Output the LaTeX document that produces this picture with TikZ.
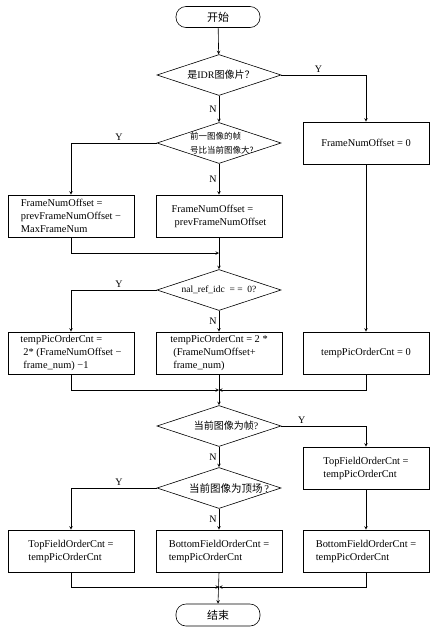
\documentclass[tikz,border=0pt]{standalone}
\usepackage{fontspec}
\setmainfont{Liberation Serif}
\newfontfamily\cjk{Noto Sans CJK SC}
\usetikzlibrary{shapes.geometric, positioning, arrows}
\tikzstyle{normalBox} = [shape=rectangle, draw=black, text=black, line width=0.6pt,
	align=center, fill=white, font=\fontsize{10.4}{13}\selectfont]
\tikzstyle{normalArrow} = [line width=0.6pt,->,>=stealth, draw=black]
\tikzstyle{ProcBox} = [normalBox, minimum width=126pt, minimum height=42pt, inner sep=2pt]
\tikzstyle{TermBox} = [normalBox, rounded corners=10pt, minimum width=84pt, minimum height=21pt,
	font=\cjk\fontsize{11}{13}\selectfont]
\tikzstyle{DecBox} = [shape=diamond, draw=black, line width=0.6pt, minimum width=124pt,
	minimum height=41pt, inner sep=0pt]
\tikzstyle{DecText} = [text=black, align=left, inner sep=0pt, font=\fontsize{10}{13}\selectfont]
\tikzstyle{YNLabel} = [text=black, font=\fontsize{10}{12}\selectfont, inner sep=2pt]

\begin{document}
\begin{tikzpicture}[x=1pt, y=-1pt]
	\useasboundingbox (0,0) rectangle (435,630);
	\node (Start) at (218,17) [TermBox] {开始};

	\node (IsIDR) at (219,75) [DecBox] {};
	\node (IsIDRText) at (IsIDR) [DecText, xshift=2pt] {{\cjk 是}IDR{\cjk 图像片？}};
	\node (Offset0) at (366,143) [ProcBox] {FrameNumOffset = 0};

	\node (PrevBig) at (219,143) [DecBox] {};
	\node (PrevBigText) at (PrevBig) [DecText, xshift=3pt, font=\cjk\fontsize{8.5}{14}\selectfont] {前一图像的帧\\号比当前图像大?};
	\node (OffsetA) at (71,216) [ProcBox, align=left] {FrameNumOffset =\\prevFrameNumOffset −\\MaxFrameNum};
	\node (OffsetB) at (219,216) [ProcBox, align=left] {FrameNumOffset =\\\hspace*{3pt}prevFrameNumOffset};
	\coordinate (Join1) at (219,253);

	\node (RefIdc) at (219,290) [DecBox] {};
	\node (RefIdcText) at (RefIdc) [DecText, font=\fontsize{9.5}{13}\selectfont] {nal\_ref\_idc\ \ = =\ \ 0?};
	\node (TempA) at (71,353) [ProcBox, align=left] {tempPicOrderCnt =\\\hspace*{3pt}2* (FrameNumOffset −\\\hspace*{3pt}frame\_num) −1};
	\node (TempB) at (219,353) [ProcBox, align=left] {tempPicOrderCnt = 2 *\\\hspace*{3pt}(FrameNumOffset+\\\hspace*{3pt}frame\_num)};
	\node (Temp0) at (366,353) [ProcBox] {tempPicOrderCnt = 0};
	\coordinate (Join2) at (219,390);

	\node (IsFrame) at (219,426) [DecBox] {};
	\node (IsFrameText) at (IsFrame) [DecText, xshift=7pt] {{\cjk 当前图像为帧}?};
	\node (TopA) at (366,468) [ProcBox, align=left] {TopFieldOrderCnt =\\tempPicOrderCnt};

	\node (IsTop) at (219,488) [DecBox] {};
	\node (IsTopText) at (IsTop) [DecText, xshift=10pt, font=\fontsize{10.5}{13}\selectfont] {{\cjk 当前图像为顶场}\,?};
	\node (TopB) at (71,551) [ProcBox, align=left] {TopFieldOrderCnt =\\tempPicOrderCnt};
	\node (BotB) at (219,551) [ProcBox, align=left] {BottomFieldOrderCnt =\\tempPicOrderCnt};
	\node (BotA) at (366,551) [ProcBox, align=left] {BottomFieldOrderCnt =\\tempPicOrderCnt};
	\coordinate (Join3) at (219,587);

	\node (Stop) at (218,615) [TermBox, minimum height=22pt] {结束};

	\draw [normalArrow] (Start) -- (IsIDR);
	\draw [normalArrow] (IsIDR.east) -| node[YNLabel, pos=0.22, above] {Y} (Offset0.north);
	\draw [normalArrow] (IsIDR.south) -- node[YNLabel, left] {N} (PrevBig.north);
	\draw [normalArrow] (PrevBig.west) -| node[YNLabel, pos=0.22, above] {Y} (OffsetA.north);
	\draw [normalArrow] (PrevBig.south) -- node[YNLabel, left] {N} (OffsetB.north);
	\draw [normalArrow] (OffsetA.south) |- (Join1);
	\draw [normalArrow] (OffsetB.south) -- (RefIdc.north);
	\draw [normalArrow] (Offset0.south) -- (Temp0.north);

	\draw [normalArrow] (RefIdc.west) -| node[YNLabel, pos=0.22, above] {Y} (TempA.north);
	\draw [normalArrow] (RefIdc.south) -- node[YNLabel, left] {N} (TempB.north);
	\draw [normalArrow] (TempA.south) |- (Join2);
	\draw [normalArrow] (Temp0.south) |- (Join2);
	\draw [normalArrow] (TempB.south) -- (IsFrame.north);

	\draw [normalArrow] (IsFrame.east) -| node[YNLabel, pos=0.12, above] {Y} (TopA.north);
	\draw [normalArrow] (IsFrame.south) -- node[YNLabel, left] {N} (IsTop.north);
	\draw [normalArrow] (TopA.south) -- (BotA.north);
	\draw [normalArrow] (IsTop.west) -| node[YNLabel, pos=0.22, above] {Y} (TopB.north);
	\draw [normalArrow] (IsTop.south) -- node[YNLabel, left] {N} (BotB.north);
	\draw [normalArrow] (TopB.south) |- (Join3);
	\draw [normalArrow] (BotA.south) |- (Join3);
	\draw [normalArrow] (BotB.south) -- (Stop.north);
\end{tikzpicture}
\end{document}
